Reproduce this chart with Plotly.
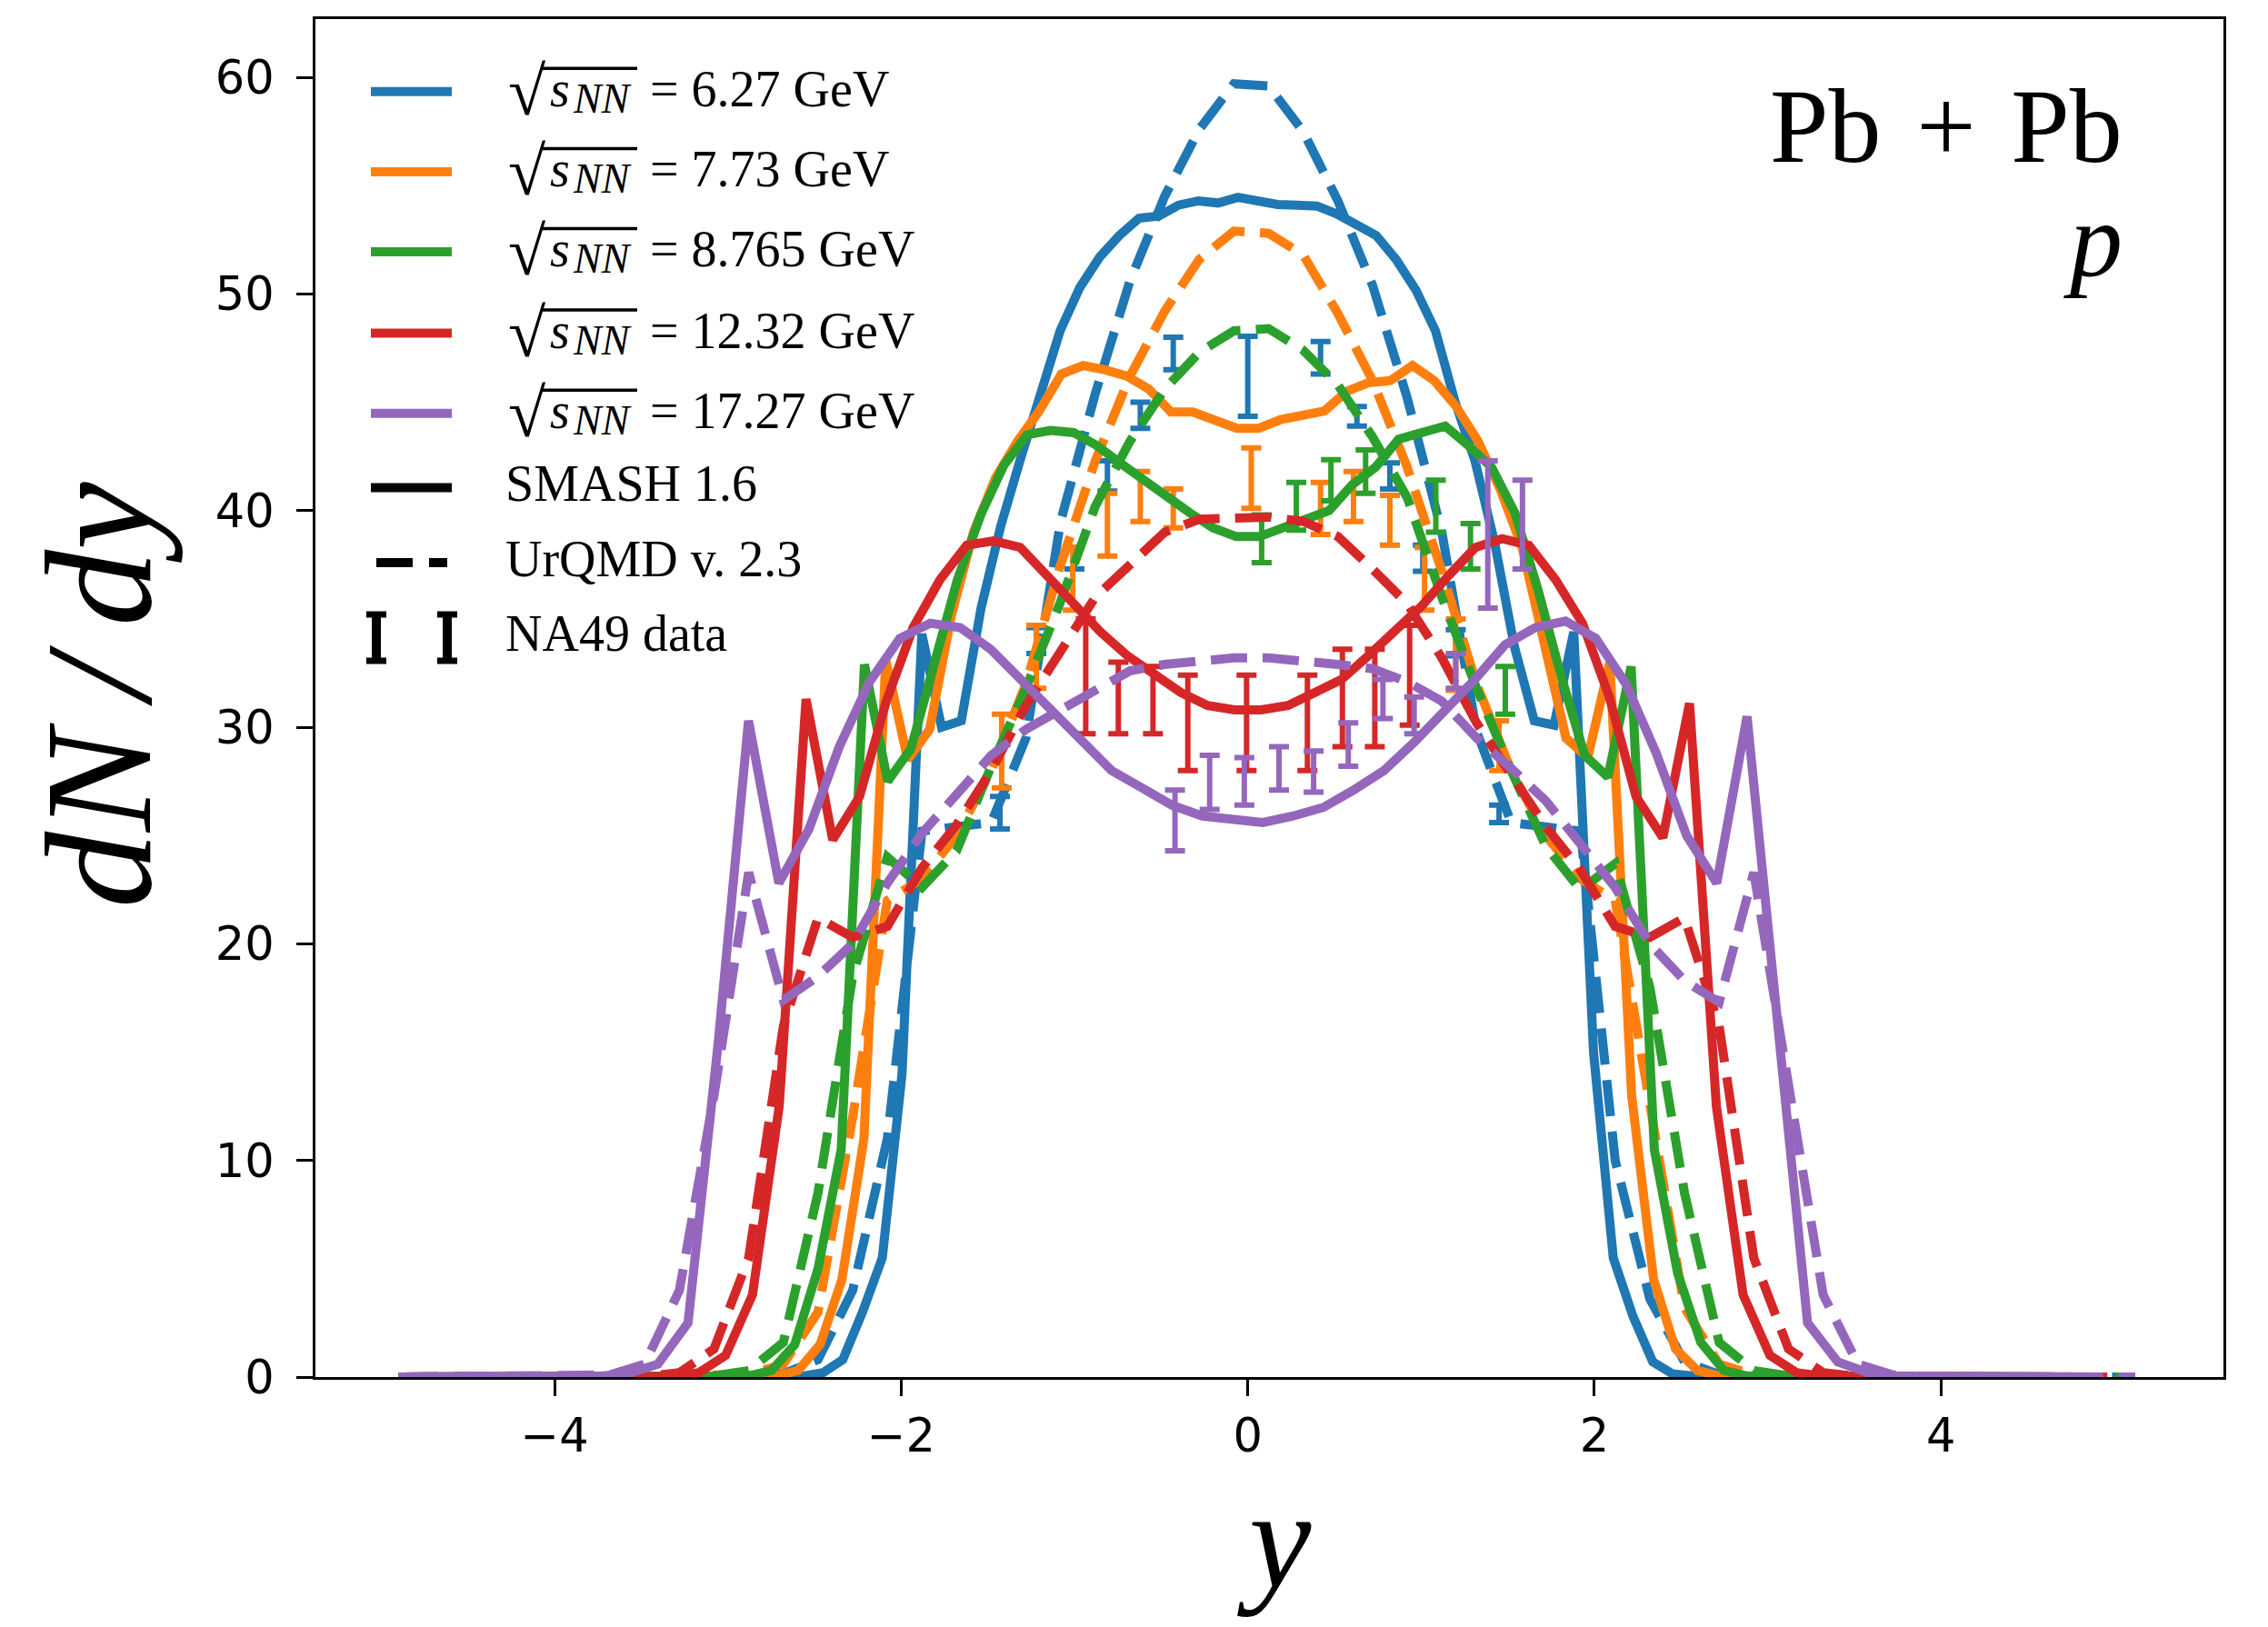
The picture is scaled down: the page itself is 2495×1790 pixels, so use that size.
import plotly.graph_objects as go

# ---------------- canvas / plot-area geometry (page pixels) ----------------
W, H = 2495, 1790
OFF = 8  # default body margin of the html page
L, R, T, B = 347, 2446, 21, 1515


def px(x):
    return (x - L) / (R - L)


def py(y):
    return (B - y) / (B - T)


# ---------------- data ----------------
ENERGIES = ["6.27", "7.73", "8.765", "12.32", "17.27"]
COLORS = ["#1f77b4", "#ff7f0e", "#2ca02c", "#d62728", "#9467bd"]

# SMASH 1.6 (solid)
SMASH_X_627 = [-4.9, -2.565, -2.451, -2.337, -2.223, -2.109, -1.995, -1.881, -1.767, -1.653, -1.539, -1.425,
               -1.311, -1.197, -1.083, -0.969, -0.855, -0.741, -0.627, -0.513, -0.399, -0.285, -0.171, -0.057,
               0.057, 0.171, 0.285, 0.399, 0.513, 0.627, 0.741, 0.855, 0.969, 1.083, 1.197, 1.311,
               1.425, 1.539, 1.653, 1.767, 1.881, 1.995, 2.109, 2.223, 2.337, 2.451, 2.565, 4.9]
SMASH_Y_627 = [0, 0.05, 0.2, 0.8, 3.0, 5.5, 14.0, 34.3, 30.0, 30.3, 35.5, 39.3,
               42.4, 45.5, 48.3, 50.3, 51.7, 52.7, 53.5, 53.6, 54.1, 54.3, 54.2, 54.46,
               54.3, 54.13, 54.1, 54.06, 53.7, 53.2, 52.7, 51.6, 50.2, 48.3, 45.0, 42.3,
               38.5, 33.7, 30.3, 30.1, 34.4, 15.0, 5.5, 2.8, 0.7, 0.15, 0.05, 0]

SMASH_X_773 = [-4.9, -2.722, -2.595, -2.468, -2.342, -2.215, -2.089, -1.962, -1.836, -1.709, -1.583, -1.456,
               -1.329, -1.203, -1.076, -0.95, -0.823, -0.696, -0.57, -0.443, -0.317, -0.19, -0.063,
               0.063, 0.19, 0.317, 0.443, 0.57, 0.696, 0.823, 0.95, 1.076, 1.203, 1.329, 1.456,
               1.583, 1.709, 1.836, 1.962, 2.089, 2.215, 2.342, 2.468, 2.595, 2.722, 4.9]
SMASH_Y_773 = [0, 0.05, 0.3, 1.5, 4.5, 11.0, 33.1, 28.5, 29.9, 35.2, 39.0, 41.5,
               43.2, 44.6, 46.3, 46.7, 46.5, 46.2, 45.6, 44.55, 44.55, 44.2, 43.8,
               43.8, 44.2, 44.4, 44.6, 45.5, 45.9, 46.0, 46.7, 46.0, 44.8, 43.2, 41.0,
               38.3, 33.8, 29.5, 28.6, 33.0, 13.0, 4.5, 1.3, 0.3, 0.05, 0]

SMASH_X_8765 = [-4.9, -2.882, -2.748, -2.614, -2.48, -2.346, -2.212, -2.078, -1.944, -1.81, -1.676, -1.541,
                -1.407, -1.273, -1.139, -1.005, -0.871, -0.737, -0.603, -0.469, -0.335, -0.201, -0.067,
                0.067, 0.201, 0.335, 0.469, 0.603, 0.737, 0.871, 1.005, 1.139, 1.273, 1.407, 1.541,
                1.676, 1.81, 1.944, 2.078, 2.212, 2.346, 2.48, 2.614, 2.748, 2.882, 4.9]
SMASH_Y_8765 = [0, 0.05, 0.3, 1.5, 5.0, 10.5, 32.9, 27.5, 29.0, 32.8, 36.8, 39.8,
                42.1, 43.5, 43.7, 43.6, 43.0, 42.2, 41.4, 40.6, 39.9, 39.2, 38.8,
                38.8, 39.2, 39.6, 40.0, 41.2, 42.0, 43.3, 43.6, 43.9, 43.0, 42.0, 39.9,
                36.3, 32.3, 28.7, 27.7, 32.8, 10.5, 4.8, 1.6, 0.3, 0.05, 0]

SMASH_X_1232 = [-4.9, -3.322, -3.167, -3.013, -2.858, -2.704, -2.549, -2.395, -2.24, -2.086, -1.931, -1.777,
                -1.622, -1.468, -1.313, -1.159, -1.004, -0.85, -0.695, -0.541, -0.386, -0.232, -0.077,
                0.077, 0.232, 0.386, 0.541, 0.695, 0.85, 1.004, 1.159, 1.313, 1.468, 1.622, 1.777,
                1.931, 2.086, 2.24, 2.395, 2.549, 2.704, 2.858, 3.013, 3.167, 3.322, 4.9]
SMASH_Y_1232 = [0, 0.03, 0.2, 1.0, 3.8, 12.5, 31.3, 24.8, 26.8, 31.2, 34.6, 36.8,
                38.4, 38.6, 38.3, 37.0, 35.6, 34.4, 33.3, 32.4, 31.6, 31.0, 30.8,
                30.8, 31.0, 31.6, 32.2, 33.3, 34.4, 35.6, 37.0, 38.3, 38.7, 38.4, 36.8,
                34.8, 31.4, 26.8, 24.9, 31.1, 12.5, 3.8, 1.0, 0.2, 0.03, 0]

SMASH_X_1727 = [-4.9, -3.754, -3.579, -3.404, -3.23, -3.055, -2.881, -2.706, -2.532, -2.357, -2.182, -2.008,
                -1.833, -1.659, -1.484, -1.31, -1.135, -0.96, -0.786, -0.611, -0.437, -0.262, -0.087,
                0.087, 0.262, 0.437, 0.611, 0.786, 0.96, 1.135, 1.31, 1.484, 1.659, 1.833, 2.008,
                2.182, 2.357, 2.532, 2.706, 2.881, 3.055, 3.23, 3.404, 3.579, 3.754, 4.9]
SMASH_Y_1727 = [0, 0.03, 0.15, 0.6, 2.5, 15.5, 30.3, 22.8, 25.3, 29.1, 32.1, 34.1,
                34.8, 34.6, 33.6, 32.2, 30.7, 29.3, 28.0, 27.2, 26.4, 25.9, 25.7,
                25.6, 25.9, 26.3, 27.1, 28.0, 29.3, 30.7, 32.2, 33.8, 34.6, 34.9, 34.1,
                32.0, 28.8, 25.0, 22.8, 30.5, 16.0, 2.5, 0.7, 0.2, 0.03, 0]

# UrQMD v2.3 (dashed), common rapidity bins
URQMD_X = [-4.88, -4.68, -4.48, -4.28, -4.08, -3.88, -3.68, -3.48, -3.28, -3.08, -2.88, -2.68, -2.48,
           -2.28, -2.08, -1.88, -1.68, -1.48, -1.28, -1.08, -0.88, -0.68, -0.48, -0.28, -0.08,
           0.12, 0.32, 0.52, 0.72, 0.92, 1.12, 1.32, 1.52, 1.72, 1.92, 2.12, 2.32, 2.52,
           2.72, 2.92, 3.12, 3.32, 3.52, 3.72, 3.92, 4.12, 4.32, 4.52, 4.72, 4.92, 5.12]
URQMD_Y_627 = [0, 0, 0, 0, 0, 0, 0, 0, 0, 0, 0.02, 0.15, 0.8,
               4.0, 11.0, 25.2, 25.4, 25.6, 29.5, 39.5, 45.4, 50.6, 54.5, 57.6, 59.7,
               59.6, 57.5, 54.3, 50.4, 45.2, 39.0, 29.8, 25.6, 25.4, 25.2, 10.0, 3.6, 0.7,
               0.12, 0.02, 0, 0, 0, 0, 0, 0, 0, 0, 0, 0, 0]
URQMD_Y_773 = [0, 0, 0, 0, 0, 0, 0, 0, 0, 0.02, 0.1, 0.6, 3.0,
               12.0, 22.0, 23.0, 25.0, 28.0, 32.0, 37.5, 42.3, 46.2, 49.2, 51.6, 52.9,
               52.8, 51.8, 49.1, 46.0, 42.0, 37.2, 32.0, 28.0, 25.0, 23.0, 22.0, 12.5, 3.2,
               0.6, 0.1, 0.02, 0, 0, 0, 0, 0, 0, 0, 0, 0, 0]
URQMD_Y_8765 = [0, 0, 0, 0, 0, 0, 0, 0, 0, 0.05, 0.3, 1.6, 8.5,
                18.5, 24.0, 22.6, 24.3, 28.2, 31.8, 35.8, 40.2, 43.2, 45.6, 47.3, 48.3,
                48.4, 47.4, 45.8, 43.4, 40.6, 36.0, 31.8, 28.0, 24.5, 22.5, 23.7, 18.0, 8.5,
                1.6, 0.3, 0.05, 0, 0, 0, 0, 0, 0, 0, 0, 0, 0]
URQMD_Y_1232 = [0, 0, 0, 0, 0, 0, 0, 0.03, 0.2, 1.3, 5.5, 16.2, 21.2,
                20.3, 20.8, 23.5, 25.5, 28.0, 31.0, 33.6, 36.0, 37.5, 39.0, 39.6, 39.7,
                39.7, 39.5, 38.8, 37.3, 35.7, 33.2, 30.2, 27.8, 25.4, 23.4, 20.8, 20.3, 21.2,
                16.2, 5.5, 1.3, 0.2, 0.03, 0, 0, 0, 0, 0, 0, 0, 0]
URQMD_Y_1727 = [0, 0, 0, 0, 0, 0.02, 0.1, 0.6, 4.0, 13.0, 23.3, 17.4, 18.5,
                20.0, 22.8, 25.1, 26.9, 28.7, 29.9, 30.8, 31.8, 32.6, 32.9, 33.1, 33.2,
                33.2, 33.1, 32.9, 32.7, 32.1, 31.2, 29.5, 28.1, 26.6, 24.6, 22.6, 20.0, 18.3,
                17.3, 23.3, 13.5, 3.8, 0.6, 0.1, 0.02, 0, 0, 0, 0, 0, 0]

# NA49 data: rapidity, dN/dy, error
NA49_X_627 = [-1.43, -1.22, -1.0, -0.81, -0.62, -0.43, 0.0, 0.42, 0.63, 0.82, 1.01, 1.2, 1.45]
NA49_Y_627 = [26.05, 34.0, 37.8, 41.6, 44.4, 47.25, 46.2, 47.05, 44.35, 41.6, 37.8, 33.9, 26.0]
NA49_E_627 = [0.75, 0.6, 0.5, 0.7, 0.6, 0.75, 1.85, 0.75, 0.45, 0.6, 0.6, 0.6, 0.4]

NA49_X_773 = [-1.42, -1.22, -1.01, -0.81, -0.62, -0.43, 0.02, 0.42, 0.61, 0.82, 1.02, 1.2, 1.45]
NA49_Y_773 = [28.9, 33.25, 36.85, 39.35, 40.65, 40.1, 41.5, 40.1, 40.65, 39.55, 36.85, 33.35, 29.15]
NA49_E_773 = [1.7, 1.45, 1.45, 1.45, 1.15, 0.9, 1.4, 1.2, 1.15, 1.15, 1.45, 1.65, 1.15]

NA49_X_8765 = [0.08, 0.28, 0.48, 0.68, 1.085, 1.285, 1.486]
NA49_Y_8765 = [38.7, 40.2, 41.4, 41.8, 40.2, 38.35, 31.7]
NA49_E_8765 = [1.1, 1.1, 0.95, 1.0, 1.2, 1.05, 1.1]

NA49_X_1232 = [-0.935, -0.747, -0.547, -0.346, -0.007, 0.344, 0.546, 0.733, 0.934]
NA49_Y_1232 = [32.35, 31.35, 31.25, 30.2, 30.2, 30.2, 31.35, 31.35, 32.4]
NA49_E_1232 = [2.65, 1.65, 1.55, 2.2, 2.2, 2.2, 2.25, 2.25, 2.3]

NA49_X_1727 = [-0.42, -0.22, -0.02, 0.18, 0.38, 0.58, 0.78, 0.96, 1.2, 1.385, 1.585]
NA49_Y_1727 = [25.7, 27.45, 27.5, 28.1, 27.95, 29.2, 31.3, 30.55, 32.6, 38.9, 39.35]
NA49_E_1727 = [1.4, 1.25, 1.1, 1.0, 0.95, 1.0, 0.9, 0.85, 0.8, 3.4, 2.05]

SMASH_X = [SMASH_X_627, SMASH_X_773, SMASH_X_8765, SMASH_X_1232, SMASH_X_1727]
SMASH_Y = [SMASH_Y_627, SMASH_Y_773, SMASH_Y_8765, SMASH_Y_1232, SMASH_Y_1727]
URQMD_Y = [URQMD_Y_627, URQMD_Y_773, URQMD_Y_8765, URQMD_Y_1232, URQMD_Y_1727]
NA49_X = [NA49_X_627, NA49_X_773, NA49_X_8765, NA49_X_1232, NA49_X_1727]
NA49_Y = [NA49_Y_627, NA49_Y_773, NA49_Y_8765, NA49_Y_1232, NA49_Y_1727]
NA49_E = [NA49_E_627, NA49_E_773, NA49_E_8765, NA49_E_1232, NA49_E_1727]

X_TICKS = [-4, -2, 0, 2, 4]
X_TICKTEXT = ["\u22124", "\u22122", "0", "2", "4"]
Y_TICKS = [0, 10, 20, 30, 40, 50, 60]

# ---------------- styling ----------------
LW = 10
DASH = "40px,17px"
SERIF = "Liberation Serif"
K = 0.3375  # (ascent - descent)/2 of the serif font, in em


def cy(baseline, size):
    """centre of a text box whose baseline sits at page-pixel `baseline`"""
    return py(baseline - K * size)


fig = go.Figure()
for i in range(5):
    fig.add_trace(go.Scatter(x=SMASH_X[i], y=SMASH_Y[i], mode="lines",
                             line=dict(color=COLORS[i], width=LW), showlegend=False, hoverinfo="skip"))
    fig.add_trace(go.Scatter(x=URQMD_X, y=URQMD_Y[i], mode="lines",
                             line=dict(color=COLORS[i], width=LW, dash=DASH), showlegend=False, hoverinfo="skip"))
    fig.add_trace(go.Scatter(x=NA49_X[i], y=NA49_Y[i], mode="markers",
                             marker=dict(size=1, opacity=0, color=COLORS[i]),
                             error_y=dict(type="data", array=NA49_E[i], color=COLORS[i], thickness=6, width=11),
                             showlegend=False, hoverinfo="skip"))

axis_common = dict(ticks="outside", ticklen=18, tickwidth=3.3, tickcolor="black", showline=True,
                   linewidth=3.3, linecolor="black", mirror=True, showgrid=False, zeroline=False,
                   automargin=False, tickfont=dict(family="DejaVu Sans", size=51, color="black"))

fig.update_layout(
    width=W, height=H,
    margin=dict(l=L - OFF, r=W - R + OFF, t=T - OFF, b=H - B + OFF),
    paper_bgcolor="white", plot_bgcolor="white", showlegend=False,
    xaxis=dict(range=[-5.38, 5.63], tickvals=X_TICKS, ticktext=X_TICKTEXT, **axis_common),
    yaxis=dict(range=[0, 62.69], tickvals=Y_TICKS, ticklabelstandoff=14, **axis_common),
)

annotations = []
shapes = []


def text(t, x, y, size, xanchor="left", angle=0):
    annotations.append(dict(text=t, x=px(x), y=y, xref="paper", yref="paper", showarrow=False,
                            xanchor=xanchor, yanchor="middle", textangle=angle,
                            font=dict(family=SERIF, size=size, color="black")))


def hline(x0, x1, y, color, width):
    shapes.append(dict(type="line", xref="paper", yref="paper", x0=px(x0), x1=px(x1),
                       y0=py(y), y1=py(y), line=dict(color=color, width=width)))


# axis labels
text("<i>y</i>", 1402, py(1694), 154, xanchor="center")
text("<i>dN\u2009/\u2009dy</i>", 108, py(765), 168, xanchor="center", angle=-90)

# system label
text("Pb\u2004+\u2004Pb", 2337, cy(178, 116), 116, xanchor="right")
text("<i>p</i>", 2337, cy(303, 116), 116, xanchor="right")

# legend : energies
LEG_Y = [100.7, 189.0, 277.0, 366.6, 454.8]
for i, e in enumerate(ENERGIES):
    yl = LEG_Y[i]
    hline(408, 497, yl, COLORS[i], LW)
    text("\u221a", 557, py(yl - 0.5), 75)
    text("<i>s</i>", 603, cy(yl + 16, 56), 56)
    text("<i>NN</i>", 628, cy(yl + 23, 46), 46)
    hline(596, 701, yl - 25.5, "black", 3.5)
    text("= " + e + " GeV", 713, cy(yl + 16.3, 56), 56)

# legend : models / data
hline(408, 497, 536.5, "black", LW)
text("SMASH 1.6", 554, cy(551, 56), 56)
hline(414, 454, 619, "black", LW)
hline(472, 492, 619, "black", LW)
text("UrQMD v. 2.3", 554, cy(634, 56), 56)
for xc in (414, 492):
    shapes.append(dict(type="line", xref="paper", yref="paper", x0=px(xc), x1=px(xc),
                       y0=py(673), y1=py(730), line=dict(color="black", width=10)))
    for yc in (676, 727):
        hline(xc - 11, xc + 11, yc, "black", 7)
text("NA49 data", 554, cy(716, 56), 56)

fig.update_layout(annotations=annotations, shapes=shapes)
fig.write_html("out.html")
